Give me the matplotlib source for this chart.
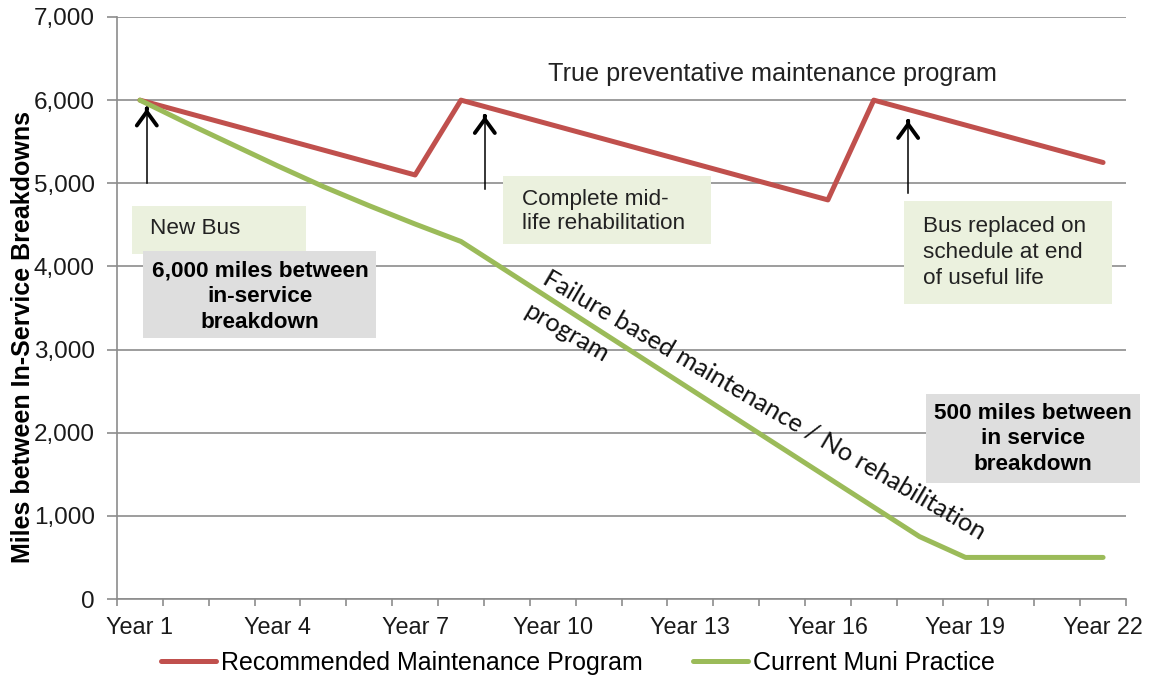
import matplotlib.pyplot as plt
from matplotlib.patches import Rectangle

plt.rcParams['font.family'] = ['Liberation Sans', 'DejaVu Sans']

years = list(range(1, 23))
year_labels = ['Year %d' % y for y in years]
recommended = [6000, 5850, 5700, 5550, 5400, 5250, 5100,
               6000, 5850, 5700, 5550, 5400, 5250, 5100, 4950, 4800,
               6000, 5850, 5700, 5550, 5400, 5250]
current = [6000, 5730, 5470, 5210, 4960, 4730, 4510, 4300,
           3945, 3590, 3235, 2880, 2525, 2170, 1815, 1460, 1105, 750,
           500, 500, 500, 500]

red = '#C0504D'
green = '#9BBB59'
boxgreen = '#EBF1DE'
boxgray = '#DEDEDE'
gridc = '#8C8C8C'

fig = plt.figure(figsize=(11.51, 6.8), dpi=100)
ax = fig.add_axes([117 / 1151, 1 - 599 / 680, 1009 / 1151, 582 / 680])

ax.plot(years, recommended, color=red, lw=3.6, solid_capstyle='round',
        label='Recommended Maintenance Program', zorder=4)
ax.plot(years, current, color=green, lw=3.6, solid_capstyle='round',
        label='Current Muni Practice', zorder=4)

ax.set_xlim(0.5, 22.5)
ax.set_ylim(0, 7000)
ax.set_yticks(range(0, 7001, 1000))
ax.set_yticklabels(['{:,}'.format(v) for v in range(0, 7001, 1000)])
ax.set_xticks(years[::3])
ax.set_xticklabels(year_labels[::3])
ax.set_xticks([y + 0.5 for y in range(0, 23)], minor=True)
ax.tick_params(axis='x', which='major', length=0, pad=12, labelsize=16.8,
               colors='#1a1a1a')
ax.tick_params(axis='x', which='minor', length=5, color=gridc, width=1.2)
ax.tick_params(axis='y', length=7, color=gridc, width=1.2, pad=9,
               labelsize=17.5, labelcolor='#1a1a1a')
ax.yaxis.grid(True, color=gridc, lw=1.2)
ax.set_axisbelow(True)
for s in ['top', 'right']:
    ax.spines[s].set_visible(False)
for s in ['left', 'bottom']:
    ax.spines[s].set_color(gridc)
    ax.spines[s].set_linewidth(1.2)

fig.text(23 / 1151, 1 - 337 / 680, 'Miles between In-Service Breakdowns',
         rotation=90, ha='center', va='center', fontsize=18,
         fontweight='bold')

# annotation boxes
def box(x0, x1, y0, y1, color, z=2):
    ax.add_patch(Rectangle((x0, y0), x1 - x0, y1 - y0, facecolor=color,
                           edgecolor='none', zorder=z, clip_on=False))

box(0.826, 4.62, 4154, 4730, boxgreen, z=2)
ax.text(1.22, 4454, 'New Bus', fontsize=16.2, va='center', ha='left',
        color='#222222', zorder=5)
box(1.065, 6.146, 3145, 4190, boxgray, z=3)
ax.text(3.617, 3640, '6,000 miles between\nin-service\nbreakdown',
        fontsize=16.2, fontweight='bold', ha='center', va='center',
        linespacing=1.29, zorder=5)

box(8.915, 13.45, 4274, 5090, boxgreen)
ax.text(9.323, 4660, 'Complete mid-\nlife rehabilitation', fontsize=16.2,
        ha='left', va='center', linespacing=1.16, color='#222222', zorder=5)

box(17.66, 22.19, 3553, 4790, boxgreen)
ax.text(18.07, 4165, 'Bus replaced on\nschedule at end\nof useful life',
        fontsize=16.2, ha='left', va='center', linespacing=1.31,
        color='#222222', zorder=5)

box(18.14, 22.81, 1393, 2461, boxgray)
ax.text(20.47, 1925, '500 miles between\nin service\nbreakdown', fontsize=16.2,
        fontweight='bold', ha='center', va='center', linespacing=1.29,
        zorder=5)

ax.text(9.9, 6315, 'True preventative maintenance program', fontsize=18.2,
        ha='left', va='center', color='#222222')

ax.text(9.504, 3565, 'Failure based maintenance / No rehabilitation\nprogram',
        family=['Lato', 'DejaVu Sans'], fontsize=18.3, rotation=-30.4,
        rotation_mode='anchor', ha='left', va='baseline', linespacing=1.8,
        color='#111111', zorder=5)

# arrows
for x, y0, y1 in [(1.15, 5000, 5900), (8.52, 4934, 5810), (17.75, 4886, 5750)]:
    ax.plot([x, x], [y0, y1 - 60], color='black', lw=1.1, zorder=5)
    ax.annotate('', xy=(x, y1), xytext=(0, -2), textcoords='offset points',
                arrowprops=dict(arrowstyle='->,head_length=0.55,head_width=0.4',
                                lw=2.8, color='black', mutation_scale=18),
                zorder=5)

fig.legend(loc='center', bbox_to_anchor=(0.502, 1 - 663 / 680), ncol=2,
           frameon=False, fontsize=18, handlelength=2.2,
           handletextpad=0.2, columnspacing=2.0)

fig.savefig('out.png', dpi=100)
